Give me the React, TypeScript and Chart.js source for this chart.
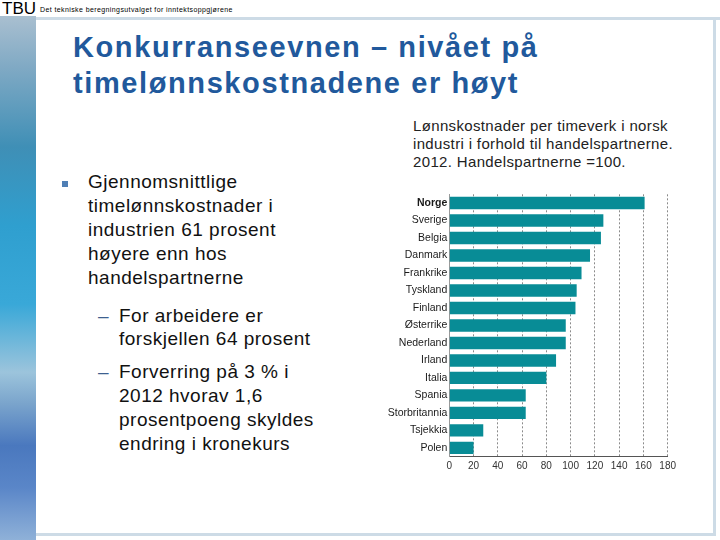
import React, { useEffect, useRef } from "react";
import { Chart, registerables } from "chart.js";

Chart.register(...registerables);

const countries = [
  "Norge", "Sverige", "Belgia", "Danmark", "Frankrike", "Tyskland", "Finland",
  "Østerrike", "Nederland", "Irland", "Italia", "Spania", "Storbritannia", "Tsjekkia", "Polen",
];
const costIndex = [161, 127, 125, 116, 109, 105, 104, 96, 96, 88, 80, 63, 63, 28, 20];
const xTicks = [0, 20, 40, 60, 80, 100, 120, 140, 160, 180];

const titleLines = ["Konkurranseevnen – nivået på", "timelønnskostnadene er høyt"];
const chartTitleLines = [
  "Lønnskostnader per timeverk i norsk",
  "industri i forhold til handelspartnerne.",
  "2012. Handelspartnerne =100.",
];
const bulletLines = [
  "Gjennomsnittlige",
  "timelønnskostnader i",
  "industrien 61 prosent",
  "høyere enn hos",
  "handelspartnerne",
];
const sub1Lines = ["For arbeidere er", "forskjellen 64 prosent"];
const sub2Lines = ["Forverring på 3 % i", "2012 hvorav 1,6", "prosentpoeng skyldes", "endring i kronekurs"];

const FONT = "'Liberation Sans', Arial, sans-serif";

function BarChart() {
  const ref = useRef<HTMLCanvasElement | null>(null);
  useEffect(() => {
    if (!ref.current) return;
    const chart = new Chart(ref.current, {
      type: "bar",
      data: {
        labels: countries,
        datasets: [
          {
            data: costIndex,
            backgroundColor: "#088c96",
            borderWidth: 0,
            barPercentage: 0.71,
            categoryPercentage: 1,
          },
        ],
      },
      options: {
        indexAxis: "y",
        animation: false,
        responsive: false,
        maintainAspectRatio: false,
        layout: { padding: { top: 5.5, right: 10, left: 0, bottom: 0 } },
        plugins: { legend: { display: false }, tooltip: { enabled: false }, title: { display: false } },
        scales: {
          x: {
            min: 0,
            max: 180,
            afterBuildTicks: (scale: any) => {
              scale.ticks = xTicks.map((v) => ({ value: v }));
            },
            afterFit: (scale: any) => {
              scale.height = 19.4;
            },
            grid: {
              color: "#8a8a8a",
              lineWidth: 1,
              drawTicks: false,
            },
            border: { display: true, color: "#555555", width: 1, dash: [2, 2] },
            ticks: {
              color: "#333333",
              font: { family: FONT, size: 10 },
              padding: 4,
              maxRotation: 0,
            },
          },
          y: {
            afterFit: (scale: any) => {
              scale.width = 69.3;
            },
            grid: { display: false, drawTicks: false },
            border: { display: true, color: "#9a9a9a", width: 1 },
            ticks: {
              color: "#1a1a1a",
              padding: 2,
              font: (ctx: any) => ({
                family: FONT,
                size: 10.5,
                weight: ctx.index === 0 ? "bold" : "normal",
              }),
            },
          },
        },
      },
    });
    return () => chart.destroy();
  }, []);
  return (
    <canvas
      ref={ref}
      width={300}
      height={290}
      style={{ position: "absolute", left: 380, top: 186, width: 300, height: 290 }}
    />
  );
}

export default function App() {
  const lines = (arr: string[], left: number, top: number, size: number, lh: number, extra: any = {}) =>
    arr.map((t, i) => (
      <div
        key={t + i}
        style={{
          position: "absolute",
          left,
          top: top + i * lh,
          fontSize: size,
          lineHeight: lh + "px",
          whiteSpace: "nowrap",
          fontFamily: FONT,
          ...extra,
        }}
      >
        {t}
      </div>
    ));

  return (
    <div
      style={{
        position: "absolute",
        left: 0,
        top: 0,
        width: 720,
        height: 540,
        background: "#ffffff",
        overflow: "hidden",
        fontFamily: FONT,
      }}
    >
      {/* left decorative strip */}
      <div
        style={{
          position: "absolute",
          left: 0,
          top: 16,
          width: 36,
          height: 524,
          background:
            "linear-gradient(180deg, #a9bfd0 0%, #7fa9c4 10%, #3f8fb6 25%, #2f9fcf 40%, #39a8d8 55%, #9cc4dc 68%, #7aa4cc 74%, #4a78be 82%, #5a86c8 90%, #8fb1d8 100%)",
        }}
      />
      {/* header */}
      <div
        style={{
          position: "absolute",
          left: 2,
          top: 0,
          fontSize: 17,
          lineHeight: "18px",
          color: "#000",
          fontFamily: FONT,
        }}
      >
        TBU
      </div>
      <div
        style={{
          position: "absolute",
          left: 40,
          top: 5,
          fontSize: 7,
          lineHeight: "9px",
          letterSpacing: "0.4px",
          color: "#000",
          whiteSpace: "nowrap",
        }}
      >
        Det tekniske beregningsutvalget for inntektsoppgjørene
      </div>
      <div style={{ position: "absolute", left: 36, top: 17, width: 684, height: 3, background: "#cddbe6" }} />
      <div style={{ position: "absolute", left: 713, top: 20, width: 3, height: 516, background: "#cddbe6" }} />
      <div style={{ position: "absolute", left: 36, top: 533, width: 680, height: 3, background: "#cddbe6" }} />

      {/* title */}
      {lines(titleLines, 73, 29, 29, 36, { color: "#21599c", fontWeight: "bold", letterSpacing: "1.6px" })}

      {/* bullets */}
      <div style={{ position: "absolute", left: 62, top: 181, width: 6, height: 6, background: "#4f7fb5" }} />
      {lines(bulletLines, 88, 170, 19, 24, { color: "#111", letterSpacing: "0.5px" })}
      {lines(["–"], 98, 303.5, 19, 24, { color: "#3d5f8f" })}
      {lines(sub1Lines, 119, 303.5, 19, 23.5, { color: "#111", letterSpacing: "0.5px" })}
      {lines(["–"], 98, 360, 19, 24, { color: "#3d5f8f" })}
      {lines(sub2Lines, 119, 360, 19, 24, { color: "#111", letterSpacing: "0.5px" })}

      {/* chart title */}
      {lines(chartTitleLines, 413, 116.5, 15, 18.3, { color: "#222", letterSpacing: "0.35px" })}

      <BarChart />
    </div>
  );
}
